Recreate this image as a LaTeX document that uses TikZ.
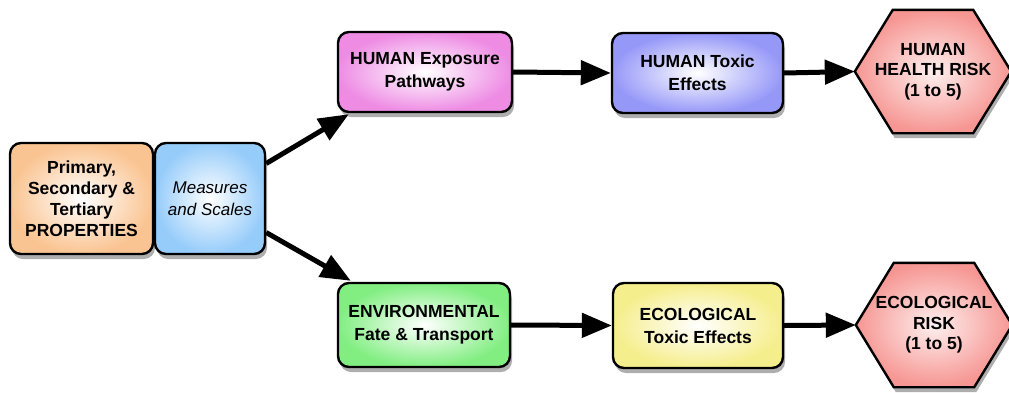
\documentclass[tikz,border=0pt]{standalone}
\usepackage{fontspec}
\setmainfont{Liberation Sans}
\usetikzlibrary{arrows.meta,shadows}
\definecolor{corange}{RGB}{250,196,146}
\definecolor{cblue}{RGB}{150,204,250}
\definecolor{cpink}{RGB}{238,140,228}
\definecolor{clav}{RGB}{150,152,248}
\definecolor{cgreen}{RGB}{130,238,130}
\definecolor{cyellow}{RGB}{245,238,140}
\definecolor{cred}{RGB}{246,150,146}
\tikzset{
  shad/.style={drop shadow={shadow xshift=2pt, shadow yshift=-5pt, opacity=0.45, fill=black!70}},
  box/.style={draw=black, line width=2.4pt, rounded corners=11pt, align=center,
    inner sep=2pt, font=\fontsize{17.5}{23}\selectfont\bfseries, shad},
  hexarea/.style={minimum width=156pt, minimum height=123pt, inner sep=0pt, align=center,
    font=\fontsize{17.5}{20.5}\selectfont\bfseries},
  hexline/.style={draw=black, line width=2.4pt, shade, inner color=white!85!cred,
    outer color=cred, shad},
  fillc/.style={shade, inner color=white, outer color=#1},
  arr/.style={line width=5pt, -{Triangle[length=30pt,width=24pt]}}
}
\newcommand{\hexoutline}[1]{%
  \path[hexline] (#1.west) -- ([xshift=38pt]#1.north west) -- ([xshift=-38pt]#1.north east)
    -- (#1.east) -- ([xshift=-38pt]#1.south east) -- ([xshift=38pt]#1.south west) -- cycle;}
\begin{document}
\begin{tikzpicture}[x=1pt,y=-1pt]
\useasboundingbox (0,0) rectangle (1009,392);
\node[box, fillc=corange, minimum width=143pt, minimum height=111pt,
  font=\fontsize{17.5}{21}\selectfont\bfseries] (prim) at (81.5,198.5)
  {Primary,\\Secondary \&\\Tertiary\\PROPERTIES};
\node[box, fillc=cblue, minimum width=110pt, minimum height=111pt,
  font=\fontsize{17}{22}\selectfont\itshape] (meas) at (210,198.5) {Measures\\and Scales};
\node[box, fillc=cpink, minimum width=174pt, minimum height=80pt] (hexp) at (425,72)
  {HUMAN Exposure\\Pathways};
\node[box, fillc=clav, minimum width=171pt, minimum height=80pt] (htox) at (697.5,73)
  {HUMAN Toxic\\Effects};
\node[hexarea] (hrisk) at (933,71.5) {};
\hexoutline{hrisk}
\node[hexarea] (hrisktxt) at (hrisk.center) {HUMAN\\HEALTH RISK\\(1 to 5)};
\node[box, fillc=cgreen, minimum width=172pt, minimum height=84pt] (env) at (424,325)
  {ENVIRONMENTAL\\Fate \& Transport};
\node[box, fillc=cyellow, minimum width=170pt, minimum height=85pt] (etox) at (698,325.5)
  {ECOLOGICAL\\Toxic Effects};
\node[hexarea, minimum height=124pt] (erisk) at (934,325) {};
\hexoutline{erisk}
\node[hexarea] (erisktxt) at (erisk.center) {ECOLOGICAL\\RISK\\(1 to 5)};
\draw[arr] ([yshift=35pt]meas.east) -- ([xshift=12pt,yshift=-1pt]hexp.south west);
\draw[arr] ([yshift=-34pt]meas.east) -- ([xshift=14pt,yshift=1pt]env.north west);
\draw[arr] (hexp.east) -- (htox.west);
\draw[arr] (htox.east) -- (hrisk.west);
\draw[arr] (env.east) -- (etox.west);
\draw[arr] (etox.east) -- (erisk.west);
\end{tikzpicture}
\end{document}
